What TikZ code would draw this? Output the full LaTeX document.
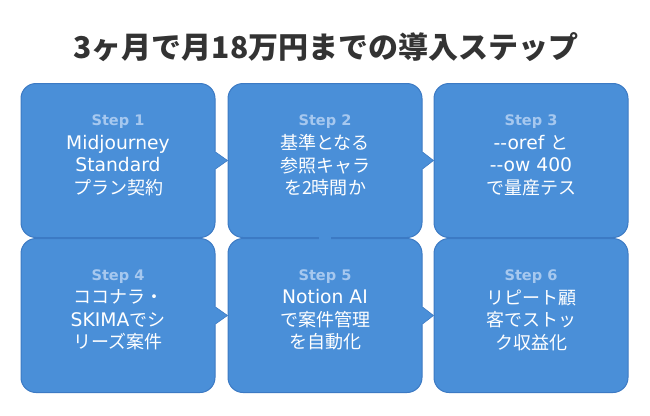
\documentclass[tikz,border=0pt]{standalone}
\usepackage{fontspec}
\setmainfont{DejaVu Sans}[Scale=1.0]
\newfontfamily\jp{Noto Sans CJK JP}
\newfontfamily\lat{DejaVu Sans}[Scale=1.04]
\usetikzlibrary{calc}
\definecolor{boxfill}{HTML}{4A8FD8}
\definecolor{boxline}{HTML}{3C7AC4}
\definecolor{stepc}{HTML}{A6C8EF}
\definecolor{titlec}{HTML}{333333}
\newcommand\dd{-\kern0pt-}
\newcommand\rptr[2]{%
  \fill[boxfill] ($(#1.east)+(-2,-8.5)$) -- ($(#1.east)+(0,-8.5)$) -- (#2.west) -- ($(#1.east)+(0,8.5)$) -- ($(#1.east)+(-2,8.5)$) -- cycle;
  \draw[boxline, line width=0.6pt] ($(#1.east)+(0,-8.5)$) -- (#2.west) -- ($(#1.east)+(0,8.5)$);}
\begin{document}
\begin{tikzpicture}[x=1pt,y=-1pt,
  box/.style={draw=boxline, fill=boxfill, line width=1pt, rounded corners=15pt,
    minimum width=194pt, minimum height=154pt, inner sep=0pt},
  steplbl/.style={text=stepc, font=\lat\fontsize{14}{16}\selectfont\bfseries, inner sep=0pt},
  body/.style={text=white, font=\fontsize{18}{22.5}\selectfont, align=center, inner sep=0pt},
  title/.style={text=titlec, font=\jp\bfseries\fontsize{30}{33}\selectfont, inner sep=0pt}]
\useasboundingbox (0,0) rectangle (650,415);
\fill[white] (0,0) rectangle (650,415);
\node[title] (ttl) at (326,47) {3ヶ月で月18万円までの導入ステップ};
% boxes
\node[box] (b1) at (118,160.5) {};
\node[box] (b2) at (325,160.5) {};
\node[box] (b3) at (531,160.5) {};
\node[box] (b4) at (118,315.5) {};
\node[box] (b5) at (325,315.5) {};
\node[box] (b6) at (531,315.5) {};
% pointers
\rptr{b1}{b2}
\rptr{b2}{b3}
\rptr{b4}{b5}
\rptr{b5}{b6}
\coordinate (dtip) at ($(b5.north)+(0,5)$);
\fill[boxfill] ($(b2.south)+(-6,-2)$) rectangle ($(b2.south)+(6,2.5)$);
\fill[boxfill] ($(b2.south)+(-6,0)$) -- (dtip) -- ($(b2.south)+(6,0)$) -- cycle;
% labels
\node[steplbl] (s1) at (118,122) {Step 1};
\node[steplbl] (s2) at (325,122) {Step 2};
\node[steplbl] (s3) at (531,122) {Step 3};
\node[steplbl] (s4) at (118,277) {Step 4};
\node[steplbl] (s5) at (325,277) {Step 5};
\node[steplbl] (s6) at (531,277) {Step 6};
\node[body] (t1) at (118,165.5) {\lat Midjourney\\ \lat Standard\\ {\jp プラン契約}};
\node[body] (t2) at (325,165.5) {\jp 基準となる\\ \jp 参照キャラ\\ \jp を2時間か};
\node[body] (t3) at (531,165.5) {{\lat \dd oref }{\jp と}\\ \lat \dd ow 400\\ \jp で量産テス};
\node[body] (t4) at (118,320) {\jp ココナラ・\\ {\lat SKIMA}{\jp でシ}\\ \jp リーズ案件};
\node[body] (t5) at (325,320) {\lat Notion AI\\ \jp で案件管理\\ \jp を自動化};
\node[body] (t6) at (531,320) {\jp リピート顧\\ \jp 客でストッ\\ \jp ク収益化};
\end{tikzpicture}
\end{document}
